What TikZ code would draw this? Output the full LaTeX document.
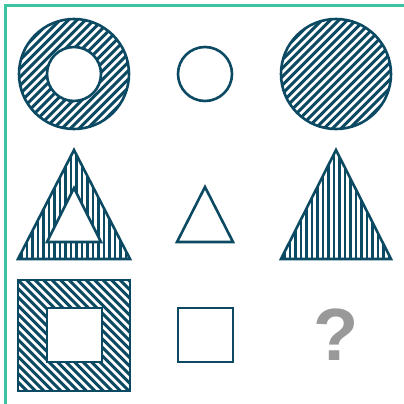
\documentclass[tikz,border=0pt]{standalone}
\usepackage{fontspec}
\setsansfont{Liberation Sans}
\definecolor{figcol}{HTML}{0B4A62}
\definecolor{framecol}{HTML}{3CC3A0}
\definecolor{qcol}{HTML}{999999}
\begin{document}
\begin{tikzpicture}[x=1pt,y=-1pt,
  outline/.style={draw=figcol,line width=2.6pt},
  hatch/.style={figcol,line width=3pt}]
\useasboundingbox (0,0) rectangle (404,404);
%
% Rahmen oben und links
\draw[framecol,line width=3pt] (5.5,404) -- (5.5,5.5) -- (404,5.5);
%
% --- Zeile 1: Kreise ---
\begin{scope}[even odd rule]
  \clip (74,74) circle (55pt) (74,74) circle (27pt);
  \foreach \d in {-144.5,-136,...,144.5}
    \draw[hatch] (74+\d-60,134) -- (74+\d+60,14);
\end{scope}
\draw[outline] (74,74) circle (55pt) (74,74) circle (27pt);
\draw[outline] (205,74) circle (27pt);
\begin{scope}
  \clip (336,74) circle (55pt);
  \foreach \d in {-144.5,-136,...,144.5}
    \draw[hatch] (336+\d-60,134) -- (336+\d+60,14);
\end{scope}
\draw[outline] (336,74) circle (55pt);
%
% --- Zeile 2: Dreiecke ---
\begin{scope}[even odd rule]
  \clip (74,150) -- (130,259) -- (18,259) -- cycle
    (74,188) -- (101,242) -- (47,242) -- cycle;
  \foreach \x in {16,21.5,...,134}
    \draw[hatch,line width=2.6pt] (\x,140) -- (\x,262);
\end{scope}
\draw[outline] (74,150) -- (130,259) -- (18,259) -- cycle
  (74,188) -- (101,242) -- (47,242) -- cycle;
\draw[outline] (205,187) -- (233,242) -- (177,242) -- cycle;
\begin{scope}
  \clip (336,150) -- (391,259) -- (281,259) -- cycle;
  \foreach \x in {279,284.5,...,394}
    \draw[hatch,line width=2.6pt] (\x,140) -- (\x,262);
\end{scope}
\draw[outline] (336,150) -- (391,259) -- (281,259) -- cycle;
%
% --- Zeile 3: Quadrate ---
\begin{scope}[even odd rule]
  \clip (18,280) rectangle (130,391) (47,308) rectangle (102,362);
  \foreach \d in {-144.5,-136,...,144.5}
    \draw[hatch] (74+\d-60,276) -- (74+\d+60,396);
\end{scope}
\draw[outline] (18,280) rectangle (130,391) (47,308) rectangle (102,362);
\draw[outline] (178,308) rectangle (233,362);
% Fragezeichen
\node[qcol,font=\fontsize{74}{74}\sffamily\bfseries] (qmark) at (336,335) {?};
\end{tikzpicture}
\end{document}
